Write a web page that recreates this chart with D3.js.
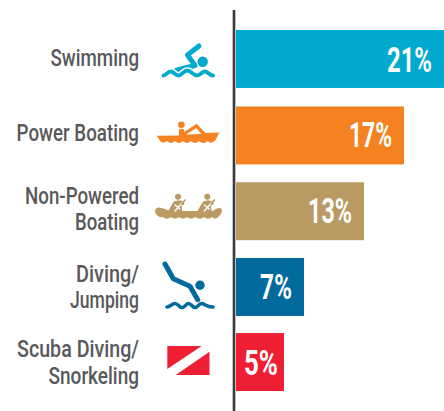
<!DOCTYPE html>
<html><head><meta charset="utf-8">
<script src="https://cdn.jsdelivr.net/npm/d3@7"></script>
<style>html,body{margin:0;background:#fff;overflow:hidden}svg{display:block}text{font-family:Roboto,sans-serif}</style>
</head><body><svg id="c" width="444" height="411"></svg>
<script>
const categories=["Swimming","Power Boating","Non-Powered Boating","Diving/ Jumping","Scuba Diving/ Snorkeling"];
const labelLines=[["Swimming"],["Power Boating"],["Non-Powered","Boating"],["Diving/","Jumping"],["Scuba Diving/","Snorkeling"]];
const values=[21,17,13,7,5];
const colors=["#00a9ce","#f58220","#b99a63","#006a9c","#ef1f33"];
// layout only: fitted text widths, since the original face is condensed
const labelWidths=[[88.5],[122.5],[114,64],[63,69],[122,90.5]];
const valueWidths=[45,43,44,32,34];
const svg=d3.select("#c");
const x=d3.scaleLinear().domain([0,21]).range([234,444]);
const y=d3.scaleBand().domain(categories).range([30,391]).paddingInner(0.235);
svg.selectAll("rect.bar").data(values).join("rect").attr("class","bar")
 .attr("x",x(0)+2).attr("y",(d,i)=>y(categories[i])+(i>0&&i<4?0.7:0)).attr("width",d=>x(d)-x(0)-2).attr("height",y.bandwidth()).attr("fill",(d,i)=>colors[i]);
svg.append("line").attr("x1",234).attr("x2",234).attr("y1",10).attr("y2",411).attr("stroke","#3a3a3c").attr("stroke-width",2.6);
function fitted(t,right,base,width,size,weight,fill){
 const n=svg.append("text").attr("text-anchor","end").attr("font-size",size).attr("font-weight",weight).attr("fill",fill).text(t);
 const s=width/n.node().getComputedTextLength();
 n.attr("transform",`translate(${right},${base}) scale(${s},1)`);
}
values.forEach((d,i)=>{
 const cy=y(categories[i])+y.bandwidth()/2;
 const pad=d===5?6:12;
 fitted(d+"%",x(d)-pad,cy+12.7,valueWidths[i],34.5,700,"#fff");
 const lines=labelLines[i];
 lines.forEach((t,k)=>{
  const by=cy+(i>=3?8.5:6.7)+(k-(lines.length-1)/2)*26.2;
  fitted(t,139,by,labelWidths[i][k],24.3,500,"#58595b");
 });
});
const g=svg.append("g").attr("stroke-linecap","round").attr("stroke-linejoin","round");
// swimmer
let c=colors[0];
g.append("circle").attr("cx",202.7).attr("cy",61.7).attr("r",5.2).attr("fill",c);
g.append("path").attr("d","M199,46L187.5,55L195,65.5L177,70").attr("fill","none").attr("stroke",c).attr("stroke-width",5);
const swimWave="M163.5,75.5C166,75.5 167.5,71.5 170.5,71.5C174,71.5 175,75.5 178.5,75.5C182,75.5 183.5,70.5 187.5,70.5C191,70.5 193,75.5 197,75.5C200,75.5 202,71.5 205,71.5C208,71.5 209,75.5 213,75.5";
g.append("path").attr("d",swimWave).attr("fill","none").attr("stroke","#fff").attr("stroke-width",7);
g.append("path").attr("d",swimWave).attr("fill","none").attr("stroke",c).attr("stroke-width",3.8);
// power boat
c=colors[1];
g.append("circle").attr("cx",181.3).attr("cy",124.7).attr("r",3.3).attr("fill",c);
g.append("path").attr("fill",c).attr("d","M156.7,135.8L179,135.5L179,130Q181,127.8 184,129.5L184,132L196.7,123.8L205.5,133L219.3,132.5L215.5,140Q211.5,145 207.5,141Q203.5,145 199,141Q195,145 191,141Q187,145 183,141Q179,145 175,141Q171,145 167,141Q162,144.5 159.5,140Z");
g.append("path").attr("fill","#fff").attr("stroke","none").attr("d","M186,134.5L196.3,128L201.5,134Z");
// paddlers
c=colors[2];
g.append("path").attr("fill",c).attr("d","M155,212Q155,207.5 159,207.5Q164,208 170,211L213,211Q217,207 221.5,208.5Q222.5,214 219,216Q216,220.5 212,217Q208,220.5 204,217Q200,220.5 195,217Q191,220.5 187,217Q183,220.5 179,217Q175,220.5 171,217Q167,220.5 163,217Q157,218 155,212Z");
[178,207.3].forEach(h=>{
 g.append("circle").attr("cx",h).attr("cy",196.7).attr("r",3).attr("fill",c);
 g.append("path").attr("fill",c).attr("stroke",c).attr("stroke-width",1).attr("d",`M${h-10},212L${h-4},202Q${h},200 ${h+5},201.5L${h+6},204L${h+3},205L${h+4},212Z`);
 g.append("path").attr("fill","none").attr("stroke","#fff").attr("stroke-width",1.4).attr("d",`M${h+5},202L${h-3},211M${h-3},205L${h+2},209`);
 g.append("path").attr("fill","none").attr("stroke",c).attr("stroke-width",1.6).attr("d",`M${h+7},200L${h+4},204`);
});
// diver
c=colors[3];
g.append("circle").attr("cx",200).attr("cy",285.3).attr("r",4.7).attr("fill",c);
g.append("path").attr("d","M165,264L173.3,278.7L190,286.3L197.7,299.7").attr("fill","none").attr("stroke",c).attr("stroke-width",5);
g.append("path").attr("fill","none").attr("stroke",c).attr("stroke-width",3.6).attr("d","M167,307C170,307 172,303.5 175,303.5C178,303.5 179,307.5 182,307.5C185,307.5 186,303.5 188.5,303.5C191,303.5 192.5,307.5 195,307.5C198,307.5 199,303.5 201.5,303.5C204.5,303.5 206,307 213,307");
// flag
c=colors[4];
g.append("path").attr("fill",c).attr("d","M167.3,346H201.7L167.3,369Z");
g.append("path").attr("fill",c).attr("d","M209.5,351.7V375H175.7Z");
</script></body></html>
